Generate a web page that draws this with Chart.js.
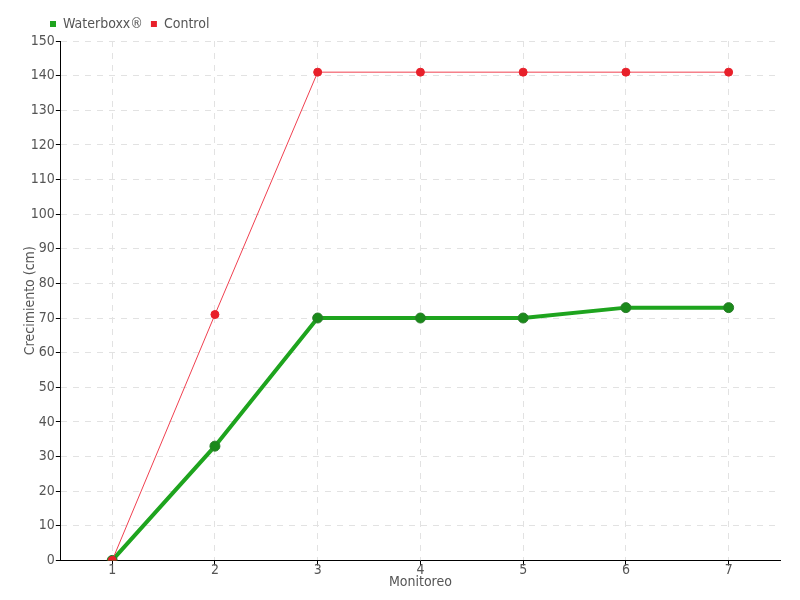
<!DOCTYPE html>
<html>
<head>
<meta charset="utf-8">
<script src="https://cdn.jsdelivr.net/npm/chart.js@4"></script>
<style>
  html, body { margin: 0; padding: 0; background: #fff; }
  #wrap { width: 800px; height: 600px; }
</style>
</head>
<body>
<div id="wrap"><canvas id="growthChart" width="800" height="600"></canvas></div>
<script>
const monitoreos = ['1', '2', '3', '4', '5', '6', '7'];
const waterboxx = [0, 33, 70, 70, 70, 73, 73];
const control = [0, 71, 141, 141, 141, 141, 141];

const colors = {
    green: '#1ea41e',
    greenDark: '#1a8a1a',
    red: '#e8202a',
    redLine: '#f04050',
    grid: '#e2e2e2',
    text: '#555555'
};

const fontFamily = '"DejaVu Sans Condensed", sans-serif';

// push the legend to the right, over the plot start
const legendShift = {
    id: 'legendShift',
    afterLayout(chart) {
        if (chart.legend) {
            chart.legend.left += 20;
            chart.legend.right += 20;
        }
    }
};

new Chart(document.getElementById('growthChart'), {
    type: 'line',
    data: {
        labels: monitoreos,
        datasets: [{
            label: 'Waterboxx®',
            data: waterboxx,
            borderColor: colors.green,
            backgroundColor: colors.green,
            borderWidth: 4,
            pointRadius: 5,
            pointBackgroundColor: colors.greenDark,
            pointBorderColor: '#2b7d2b',
            pointBorderWidth: 1,
            tension: 0,
            order: 1
        }, {
            label: 'Control',
            data: control,
            borderColor: colors.redLine,
            backgroundColor: colors.red,
            borderWidth: 1,
            pointRadius: 4,
            pointBackgroundColor: colors.red,
            pointBorderColor: colors.red,
            tension: 0,
            order: 0
        }]
    },
    plugins: [legendShift],
    options: {
        responsive: false,
        animation: false,
        layout: { padding: { left: 22, right: 20, top: 9, bottom: 9 } },
        plugins: {
            legend: {
                position: 'top',
                align: 'start',
                labels: {
                    boxWidth: 6,
                    boxHeight: 6,
                    padding: 8,
                    color: colors.text,
                    font: { family: fontFamily, size: 14 },
                    generateLabels: function (chart) {
                        return chart.data.datasets.map((ds, i) => ({
                            text: ds.label,
                            fillStyle: ds.backgroundColor,
                            strokeStyle: ds.backgroundColor,
                            lineWidth: 0,
                            fontColor: colors.text,
                            datasetIndex: i
                        }));
                    }
                }
            },
            tooltip: { enabled: false }
        },
        scales: {
            x: {
                offset: true,
                grid: {
                    offset: false,
                    color: colors.grid,
                    tickColor: '#000',
                    tickLength: 5
                },
                border: { color: '#000', dash: [6, 6] },
                ticks: { color: colors.text, font: { family: fontFamily, size: 14 }, padding: -3 },
                title: {
                    display: true,
                    text: 'Monitoreo',
                    color: colors.text,
                    font: { family: fontFamily, size: 14 },
                    padding: { top: -2, bottom: 0 }
                }
            },
            y: {
                min: 0,
                max: 150,
                ticks: {
                    stepSize: 10,
                    color: colors.text,
                    font: { family: fontFamily, size: 14 },
                    padding: 1
                },
                grid: {
                    color: colors.grid,
                    tickColor: '#000',
                    tickLength: 5
                },
                border: { color: '#000', dash: [6, 6] },
                title: {
                    display: true,
                    text: 'Crecimiento (cm)',
                    color: colors.text,
                    font: { family: fontFamily, size: 14 },
                    padding: { top: 0, bottom: -9 }
                }
            }
        }
    }
});
</script>
</body>
</html>
